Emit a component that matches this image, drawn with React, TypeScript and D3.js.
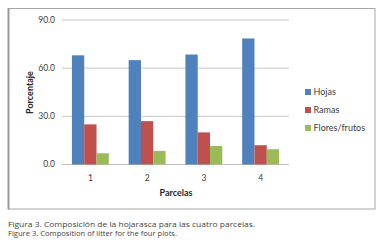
import React from "react";
import * as d3 from "d3";

const categories = ["1", "2", "3", "4"];
const seriesNames = ["Hojas", "Ramas", "Flores/frutos"];
const hojas = [68.0, 65.0, 68.5, 78.5];
const ramas = [25.0, 27.0, 20.0, 12.0];
const flores = [7.0, 8.5, 11.5, 9.5];
const yTicks = [0, 30, 60, 90];
const colors = ["#4F81BD", "#C0504D", "#9BBB59"];
const captionEs = "Figura 3. Composición de la hojarasca para las cuatro parcelas.";
const captionEn = "Figure 3. Composition of litter for the four plots.";

export default function App() {
  const W = 386, H = 248;
  const plot = { x0: 62, x1: 289, y0: 20, y1: 164.5 };
  const series = [hojas, ramas, flores];
  const x = d3.scaleBand<string>().domain(categories).range([plot.x0, plot.x1]).paddingInner(0.35).paddingOuter(0.175);
  const xs = d3.scaleBand<number>().domain([0, 1, 2]).range([0, x.bandwidth()]);
  const y = d3.scaleLinear().domain([0, 90]).range([plot.y1, plot.y0]);
  const font = "Lato, 'Open Sans', sans-serif";
  return (
    <svg width={W} height={H} style={{ position: "absolute", left: 0, top: 0 }}>
      <rect x={0} y={0} width={W} height={H} fill="#fff" />
      <rect x={8.5} y={8.5} width={366.5} height={200.5} fill="#fff" stroke="#a6a6a6" strokeWidth={1} />
      <line x1={8.5} x2={8.5} y1={8} y2={209.5} stroke="#9a9a9a" strokeWidth={2} />
      {yTicks.map((t) => (
        <g key={t}>
          <line x1={plot.x0} x2={plot.x1} y1={y(t)} y2={y(t)} stroke={t === 0 ? "#bfbfbf" : "#c8c8c8"} strokeWidth={1} />
          <text x={55} y={y(t)} dy="0.35em" textAnchor="end" fontSize={8.5} fontFamily={font} fill="#404040">
            {t.toFixed(1)}
          </text>
        </g>
      ))}
      {categories.map((c, i) => (
        <g key={c}>
          {series.map((s, j) => (
            <rect
              key={j}
              x={(x(c) as number) + (xs(j) as number)}
              y={y(s[i])}
              width={xs.bandwidth()}
              height={y(0) - y(s[i])}
              fill={colors[j]}
            />
          ))}
          <text x={(x(c) as number) + x.bandwidth() / 2} y={178} dy="0.35em" textAnchor="middle" fontSize={8.5} fontFamily={font} fill="#404040">
            {c}
          </text>
        </g>
      ))}
      <text x={176} y={193} dy="0.35em" textAnchor="middle" fontSize={9} fontWeight="bold" fontFamily={font} fill="#262626">
        Parcelas
      </text>
      <text transform="translate(29.5,92.5) rotate(-90)" dy="0.35em" textAnchor="middle" fontSize={9} fontWeight="bold" fontFamily={font} fill="#262626">
        Porcentaje
      </text>
      {seriesNames.map((n, j) => (
        <g key={n} transform={`translate(305,${92 + j * 18})`}>
          <rect x={0} y={-3} width={6} height={6} fill={colors[j]} />
          <text x={8.5} y={0} dy="0.35em" fontSize={9} fontFamily={font} fill="#404040">
            {n}
          </text>
        </g>
      ))}
      <text x={8} y={227} fontSize={7.5} fontFamily="'Open Sans', sans-serif" fill="#444" textLength={247} lengthAdjust="spacingAndGlyphs">
        {captionEs}
      </text>
      <text x={8} y={236} fontSize={7.5} fontFamily="'Open Sans', sans-serif" fill="#444" textLength={169} lengthAdjust="spacingAndGlyphs">
        {captionEn}
      </text>
    </svg>
  );
}
